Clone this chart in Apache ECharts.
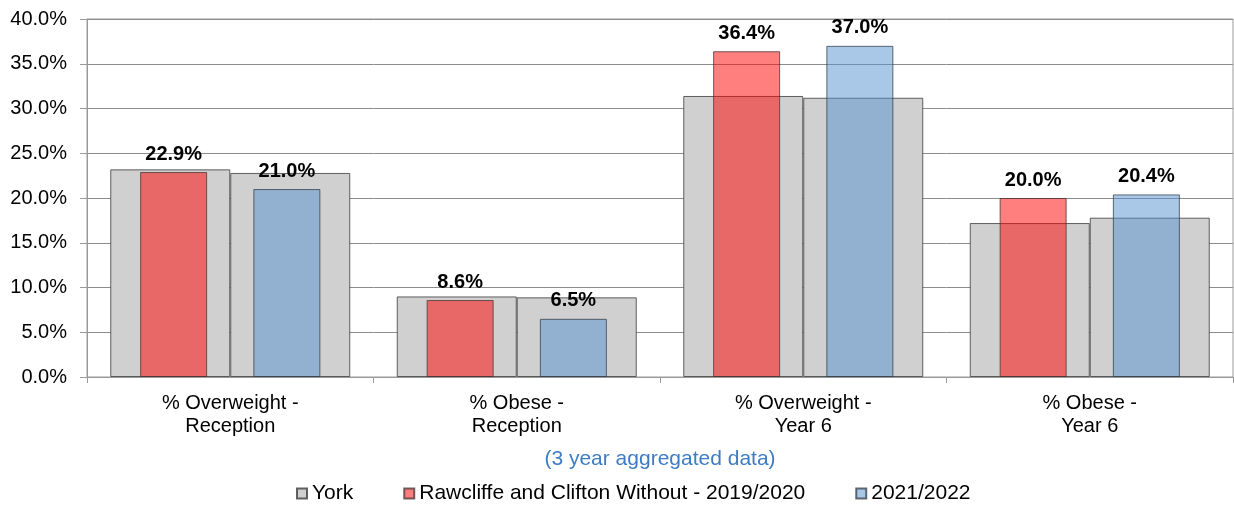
<!DOCTYPE html>
<html>
<head>
<meta charset="utf-8">
<script src="https://cdn.jsdelivr.net/npm/echarts@6/dist/echarts.min.js"></script>
<style>
html,body{margin:0;padding:0;background:#fff;}
#chart{width:1234px;height:506px;}
</style>
</head>
<body>
<div id="chart"></div>
<script>
// ---- data ----
const categories = ['% Overweight -\nReception', '% Obese -\nReception', '% Overweight -\nYear 6', '% Obese -\nYear 6'];
const yorkFirst = [23.2, 9.0, 31.4, 17.2];   // York, compared with 2019/2020
const yorkSecond = [22.8, 8.9, 31.2, 17.8];  // York, compared with 2021/2022
const ward2019 = [22.9, 8.6, 36.4, 20.0];
const ward2022 = [21.0, 6.5, 37.0, 20.4];
const seriesNames = ['York', 'Rawcliffe and Clifton Without - 2019/2020', '2021/2022'];
const axisTitle = '(3 year aggregated data)';
const yTicks = { min: 0, max: 40, interval: 5 };

const FONT = "'Liberation Sans', Arial, sans-serif";
const chart = echarts.init(document.getElementById('chart'), null, { renderer: 'canvas' });

const labelOpt = {
  show: true,
  position: 'top',
  distance: 8,
  fontFamily: FONT,
  fontSize: 20,
  fontWeight: 'bold',
  color: '#000',
  formatter: p => p.value.toFixed(1) + '%'
};

const yorkStyle = { color: '#d0d0d0', borderColor: 'rgba(60,60,60,0.8)', borderWidth: 1 };

chart.setOption({
  animation: false,
  textStyle: { fontFamily: FONT },
  grid: { left: 87, right: 1, top: 19, bottom: 129, show: true, borderColor: '#9a9a9a', borderWidth: 1 },
  legend: {
    data: seriesNames,
    left: 291,
    top: 478,
    icon: 'rect',
    itemWidth: 10,
    itemHeight: 10,
    itemGap: 50,
    textStyle: { fontFamily: FONT, fontSize: 21, color: '#000' }
  },
  xAxis: [
    {
      type: 'category',
      data: categories,
      axisLine: { lineStyle: { color: '#9a9a9a' } },
      axisTick: { show: true, length: 6, lineStyle: { color: '#9a9a9a' } },
      axisLabel: { fontFamily: FONT, fontSize: 20, color: '#000', margin: 15, lineHeight: 23 },
      name: axisTitle,
      nameLocation: 'middle',
      nameGap: 72,
      nameTextStyle: { fontFamily: FONT, fontSize: 21, color: '#3e7cc3' }
    },
    {
      type: 'category',
      data: categories,
      show: false
    }
  ],
  yAxis: {
    type: 'value',
    min: yTicks.min,
    max: yTicks.max,
    interval: yTicks.interval,
    axisLine: { show: true, lineStyle: { color: '#9a9a9a' } },
    axisTick: { show: true, length: 7, lineStyle: { color: '#9a9a9a' } },
    splitLine: { lineStyle: { color: '#8c8c8c' } },
    axisLabel: { fontFamily: FONT, fontSize: 20, color: '#000', margin: 20, formatter: v => v.toFixed(1) + '%' }
  },
  series: [
    {
      name: seriesNames[0], type: 'bar', xAxisIndex: 0, data: yorkFirst,
      barWidth: 120, barGap: '0%', itemStyle: yorkStyle
    },
    {
      name: seriesNames[0], type: 'bar', xAxisIndex: 0, data: yorkSecond,
      barWidth: 120, barGap: '0%', itemStyle: yorkStyle
    },
    {
      name: seriesNames[1], type: 'bar', xAxisIndex: 1, data: ward2019,
      barWidth: 67, barGap: '69%',
      itemStyle: { color: 'rgba(255,0,0,0.5)', borderColor: 'rgba(70,50,50,0.75)', borderWidth: 1 },
      label: labelOpt
    },
    {
      name: seriesNames[2], type: 'bar', xAxisIndex: 1, data: ward2022,
      barWidth: 67, barGap: '69%',
      itemStyle: { color: 'rgba(83,145,209,0.5)', borderColor: 'rgba(50,60,70,0.75)', borderWidth: 1 },
      label: labelOpt
    }
  ]
});
</script>
</body>
</html>
